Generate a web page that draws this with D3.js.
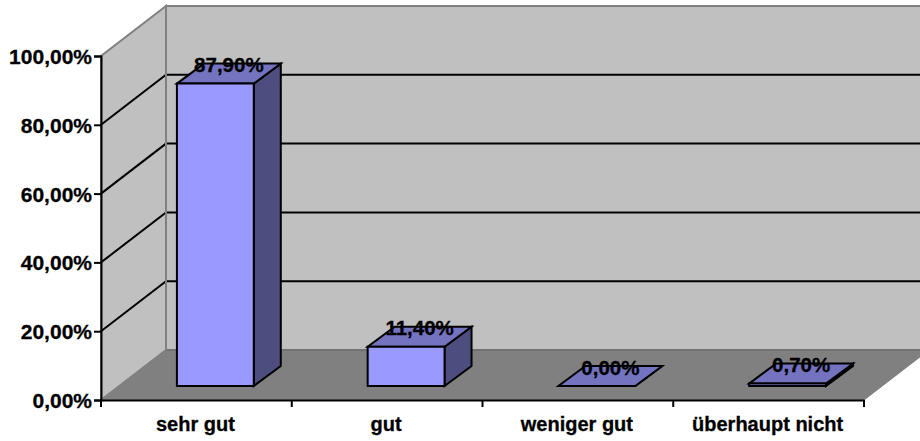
<!DOCTYPE html>
<html><head><meta charset="utf-8">
<script src="https://cdn.jsdelivr.net/npm/d3@7"></script>
<style>html,body{margin:0;padding:0;background:#fff}svg{display:block}text{font-family:"Liberation Sans",Arial,sans-serif;font-weight:bold;fill:#000;stroke:#000;stroke-width:.3px}</style>
</head><body><svg id="c" width="920" height="441"></svg>
<script>
const categories = ["sehr gut","gut","weniger gut","überhaupt nicht"];
const values = [87.9,11.4,0,0.7];
const yTicks = [0,20,40,60,80,100];
const fmt = v => v.toFixed(2).replace(".",",")+"%";
const svg = d3.select("#c");
const x = d3.scaleBand().domain(categories).range([101,864]);
const y = d3.scaleLinear().domain([0,100]).range([400,56]);
const dx=65, dy=-50;
const bdx=27, bdy=-20, lift=14;
const pts = a => a.map(p=>p.join(",")).join(" ");
const xL=x.range()[0], xR=x.range()[1], y0=y(0), yT=y(100);
const poly=(g,a,f,s,w)=>g.append("polygon").attr("points",pts(a)).attr("fill",f).attr("stroke",s).attr("stroke-width",w).attr("stroke-linejoin","miter");
const g=svg.append("g");
poly(g,[[xL+dx,yT+dy],[xR+dx+10,yT+dy],[xR+dx+10,y0+dy],[xL+dx,y0+dy]],"#c0c0c0","#808080",2);
poly(g,[[xL,y0],[xL+dx,y0+dy],[xL+dx,yT+dy],[xL,yT]],"#c0c0c0","#808080",2);
poly(g,[[xL,y0],[xR,y0],[xR+dx,y0+dy],[xL+dx,y0+dy]],"#808080","#808080",1);
g.append("line").attr("x1",xL+dx).attr("x2",920).attr("y1",y0+dy).attr("y2",y0+dy).attr("stroke","#6e6e6e").attr("stroke-width",1.5);
yTicks.filter(t=>t>0&&t<100).forEach(t=>{
  g.append("path").attr("d",`M${xL},${y(t)}L${xL+dx},${y(t)+dy}L920,${y(t)+dy}`).attr("fill","none").attr("stroke","#000").attr("stroke-width",2);
});
g.append("line").attr("x1",xL+dx).attr("x2",xL+dx).attr("y1",yT+dy).attr("y2",y0+dy).attr("stroke","#808080").attr("stroke-width",2);
const axisY=svg.append("g").attr("transform",`translate(${xL},0)`).call(d3.axisLeft(y).tickValues(yTicks).tickSize(7).tickPadding(2).tickFormat(fmt));
axisY.selectAll("path,line").attr("stroke","#000").attr("stroke-width",2);
axisY.selectAll("text").attr("font-size",21).attr("font-family",null).attr("dy","0.36em");
const axisX=svg.append("g").attr("transform",`translate(0,${y0})`).call(d3.axisBottom(x).tickValues([]).tickSize(0));
axisX.select("path").attr("stroke","#000").attr("stroke-width",2);
const edges=categories.map(c=>x(c)).concat(xR);
svg.append("g").selectAll("line").data(edges).join("line").attr("x1",d=>d).attr("x2",d=>d).attr("y1",y0).attr("y2",y0+7).attr("stroke","#000").attr("stroke-width",2);
svg.append("g").selectAll("text").data(categories).join("text")
  .attr("x",c=>x(c)+x.bandwidth()/2-1).attr("y",431).attr("text-anchor","middle").attr("font-size",20).text(c=>c);
const bw=x.bandwidth()*0.403;
const barsG=svg.append("g");
categories.forEach((c,i)=>{
  const l=x(c)+x.bandwidth()*0.398, r=l+bw, b=y0-lift, t=b-(y0-y(values[i]));
  const sw=2;
  poly(barsG,[[r,b],[r+bdx,b+bdy],[r+bdx,t+bdy],[r,t]],"#4d4d80","#000",sw);
  poly(barsG,[[l,t],[r,t],[r+bdx,t+bdy],[l+bdx,t+bdy]],"#7373bf","#000",sw);
  poly(barsG,[[l,b],[r,b],[r,t],[l,t]],"#9999ff","#000",sw);
  barsG.append("text").attr("x",(l+r+bdx)/2).attr("y",t+bdy+8.5).attr("text-anchor","middle").attr("font-size",20.5).text(fmt(values[i]));
});
</script></body></html>
